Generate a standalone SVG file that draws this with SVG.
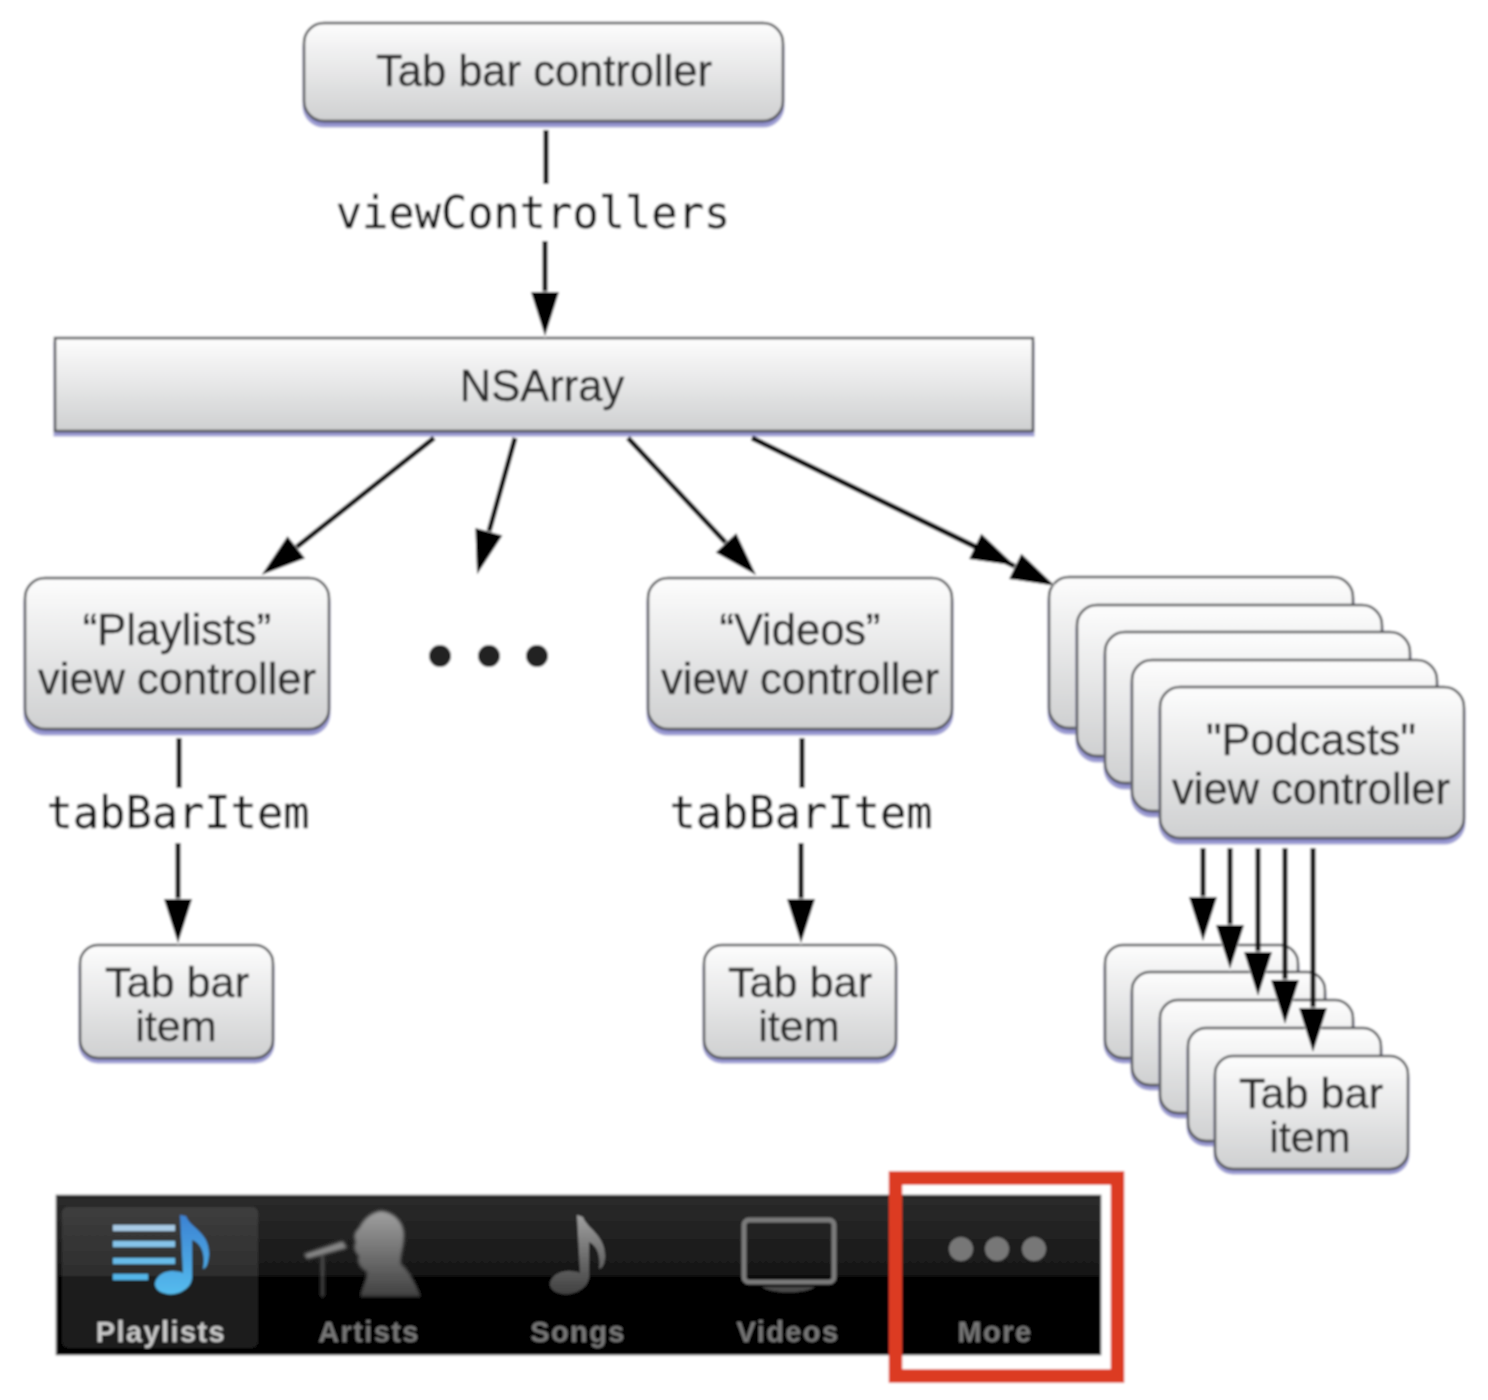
<svg xmlns="http://www.w3.org/2000/svg" width="1488" height="1400" viewBox="0 0 1488 1400">
<style>
.box{fill:url(#boxg);stroke:#555658;stroke-width:2.500}
.sh{fill:#8585c4;stroke:#a0a0d4;stroke-width:3}
.t{font-family:"Liberation Sans",Arial,sans-serif;font-size:43.500px;fill:#2a2a2a;text-anchor:middle;stroke:#2a2a2a;stroke-width:.4}
.i{font-size:43.200px}
.m{font-family:"DejaVu Sans Mono","Liberation Mono",monospace;font-size:43.700px;fill:#111;text-anchor:middle;stroke:#111;stroke-width:.3}
.l{fill:none;stroke:#111;stroke-width:5}
.a{marker-end:url(#head)}
.tb{font-family:"Liberation Sans",Arial,sans-serif;font-size:29px;font-weight:bold;fill:#777;text-anchor:middle;letter-spacing:1.400px}
</style>
<defs>
<linearGradient id="boxg" x1="0" y1="0" x2="0" y2="1"><stop offset="0" stop-color="#fdfdfd"/><stop offset="1" stop-color="#cfd0d1"/></linearGradient>
<linearGradient id="barg" x1="0" y1="0" x2="0" y2="1"><stop offset="0" stop-color="#2b2b2b"/><stop offset="1" stop-color="#161616"/></linearGradient>
<linearGradient id="note" x1="0" y1="0" x2="0" y2="1"><stop offset="0" stop-color="#3c82d2"/><stop offset="1" stop-color="#55bcee"/></linearGradient>
<linearGradient id="gray" x1="0" y1="0" x2="0" y2="1"><stop offset="0" stop-color="#a0a0a0"/><stop offset="1" stop-color="#404040"/></linearGradient>
<marker id="head" markerUnits="userSpaceOnUse" markerWidth="52" markerHeight="34" refX="26" refY="17" orient="auto"><path d="M4 3L48 17L4 31Z" fill="#000" stroke="#fff" stroke-width="1.500" paint-order="stroke"/></marker>
<marker id="mid" markerUnits="userSpaceOnUse" markerWidth="52" markerHeight="34" refX="26" refY="17" orient="auto"><path d="M4 3L48 17L4 31Z" fill="#000"/></marker>
<filter id="soft" x="0" y="0" width="1" height="1"><feGaussianBlur stdDeviation="1.100"/></filter>
<filter id="soft2" x="-5%" y="-5%" width="110%" height="110%"><feGaussianBlur stdDeviation="1.600"/></filter>
</defs>
<rect width="1488" height="1400" fill="#fff"/>
<g filter="url(#soft)">
<rect x="0" y="0" width="1488" height="1400" fill="#fff"/>
<g id="tab-bar-controller"><rect class="sh" x="304" y="28" width="479" height="98" rx="20"/><rect class="box" x="304" y="23" width="479" height="98" rx="20"/><text class="t" x="544" y="86">Tab bar controller</text></g>
<g id="nsarray"><rect class="sh" x="55" y="343" width="978" height="92"/><rect class="box" x="55" y="338" width="978" height="93"/><text class="t" x="542" y="401">NSArray</text></g>
<g id="playlists-vc"><rect class="sh" x="25" y="583" width="304" height="151" rx="20"/><rect class="box" x="25" y="578" width="304" height="151" rx="20"/><text class="t" x="177" y="645">“Playlists”</text><text class="t" x="177" y="694">view controller</text></g>
<g id="ellipsis"><circle cx="440" cy="656" r="11" fill="#222"/><circle cx="489" cy="656" r="11" fill="#222"/><circle cx="537" cy="656" r="11" fill="#222"/></g>
<g id="videos-vc"><rect class="sh" x="648" y="583" width="304" height="151" rx="20"/><rect class="box" x="648" y="578" width="304" height="151" rx="20"/><text class="t" x="800" y="645">“Videos”</text><text class="t" x="800" y="694">view controller</text></g>
<g id="podcasts-stack-1"><rect class="sh" x="1049" y="582" width="304" height="151" rx="20"/><rect class="box" x="1049" y="577" width="304" height="151" rx="20"/></g>
<g id="podcasts-stack-2"><rect class="sh" x="1077" y="610" width="305" height="151" rx="20"/><rect class="box" x="1077" y="605" width="305" height="151" rx="20"/></g>
<g id="podcasts-stack-3"><rect class="sh" x="1105" y="637" width="305" height="151" rx="20"/><rect class="box" x="1105" y="632" width="305" height="151" rx="20"/></g>
<g id="podcasts-stack-4"><rect class="sh" x="1132" y="665" width="305" height="151" rx="20"/><rect class="box" x="1132" y="660" width="305" height="151" rx="20"/></g>
<g id="podcasts-vc"><rect class="sh" x="1160" y="692" width="304" height="151" rx="20"/><rect class="box" x="1160" y="687" width="304" height="151" rx="20"/><text class="t" x="1311" y="755">"Podcasts"</text><text class="t" x="1311" y="804">view controller</text></g>
<g id="item-playlists"><rect class="sh" x="80" y="950" width="193" height="112" rx="18"/><rect class="box" x="80" y="945" width="193" height="113" rx="18"/><text class="t i" x="177" y="997">Tab bar</text><text class="t i" x="176" y="1041">item</text></g>
<g id="item-videos"><rect class="sh" x="704" y="950" width="192" height="112" rx="18"/><rect class="box" x="704" y="945" width="192" height="113" rx="18"/><text class="t i" x="800" y="997">Tab bar</text><text class="t i" x="799" y="1041">item</text></g>
<g id="item-stack-1"><rect class="sh" x="1105" y="950" width="193" height="112" rx="18"/><rect class="box" x="1105" y="945" width="193" height="113" rx="18"/></g>
<g id="item-stack-2"><rect class="sh" x="1132" y="977" width="193" height="112" rx="18"/><rect class="box" x="1132" y="972" width="193" height="113" rx="18"/></g>
<g id="item-stack-3"><rect class="sh" x="1160" y="1005" width="193" height="112" rx="18"/><rect class="box" x="1160" y="1000" width="193" height="113" rx="18"/></g>
<g id="item-stack-4"><rect class="sh" x="1188" y="1033" width="193" height="112" rx="18"/><rect class="box" x="1188" y="1028" width="193" height="113" rx="18"/></g>
<g id="item-podcasts"><rect class="sh" x="1215" y="1061" width="193" height="112" rx="18"/><rect class="box" x="1215" y="1056" width="193" height="113" rx="18"/><text class="t i" x="1311" y="1108">Tab bar</text><text class="t i" x="1310" y="1152">item</text></g>
<g id="connectors">
<path class="l" d="M546 130V184"/>
<path class="l a" d="M545 241V314"/>
<path class="l a" d="M434 438L279 561"/>
<path class="l a" d="M515 438L483 553"/>
<path class="l a" d="M628 438L741 559"/>
<path class="l" d="M752 438L1035 576" marker-end="url(#head)"/>
<path class="l" d="M752 438L995 556" marker-end="url(#mid)"/>
<path class="l" d="M179 738V788"/>
<path class="l a" d="M178 843V921"/>
<path class="l" d="M802 738V788"/>
<path class="l a" d="M801 843V921"/>
<path class="l a" d="M1203 848V919"/>
<path class="l a" d="M1230 848V947"/>
<path class="l a" d="M1258 848V974"/>
<path class="l a" d="M1285 848V1002"/>
<path class="l a" d="M1313 848V1030"/>
</g>
<g id="connector-labels">
<text class="m" x="533" y="228">viewControllers</text>
<text class="m" x="178" y="828">tabBarItem</text>
<text class="m" x="801" y="828">tabBarItem</text>
</g>
<g id="tab-bar">
<rect x="56" y="1195" width="1045" height="160" fill="#000" stroke="#999" stroke-width="1"/>
<rect x="57" y="1197" width="1043" height="79" fill="url(#barg)"/>
<rect x="62" y="1207" width="196" height="141" rx="6" fill="#fff" opacity=".1"/>
<g id="icon-playlists">
<rect x="113" y="1225" width="62" height="6" fill="#a9cbe6"/><rect x="113" y="1241" width="62" height="6" fill="#86c4ea"/><rect x="113" y="1258" width="62" height="6" fill="#68bcea"/><rect x="113" y="1274" width="35" height="6" fill="#55b6ea"/>
<path d="M180 1215L186 1216C190 1228 210 1232 209 1255C208 1265 206 1268 203 1269C206 1252 200 1243 192 1240V1278C191 1290 176 1296 167 1294C155 1292 152 1284 158 1277C164 1270 176 1270 183 1273Z" fill="url(#note)"/>
</g>
<g id="icon-artists" filter="url(#soft2)">
<path d="M304 1254L343 1241L347 1248L307 1259Z" fill="#888"/><rect x="321" y="1256" width="3" height="41" fill="#555"/>
<path d="M381 1211C394 1212 404 1222 404 1235C404 1247 400 1256 401 1264C410 1272 417 1285 421 1297H360C362 1285 367 1279 367 1272C360 1268 356 1262 359 1256C354 1252 353 1246 356 1242C353 1238 354 1232 359 1228C364 1218 372 1212 381 1211Z" fill="url(#gray)"/>
</g>
<g id="icon-songs">
<path d="M577 1215L583 1217C587 1229 606 1235 605 1258C604 1266 602 1268 599 1269C601 1254 596 1245 589 1242V1278C587 1290 572 1296 562 1294C550 1292 547 1284 553 1277C560 1270 572 1270 580 1273Z" fill="url(#gray)"/>
</g>
<g id="icon-videos">
<rect x="744" y="1220" width="90" height="62" rx="5" fill="none" stroke="#7c7c7c" stroke-width="5"/>
<path d="M762 1287H815C805 1294 772 1294 762 1287Z" fill="#4a4a4a"/>
</g>
<g id="icon-more"><circle cx="961" cy="1249" r="12" fill="#777"/><circle cx="997" cy="1249" r="12" fill="#777"/><circle cx="1034" cy="1249" r="12" fill="#777"/></g>
<text class="tb" x="161" y="1342" style="fill:#c8c8c8">Playlists</text>
<text class="tb" x="369" y="1342">Artists</text>
<text class="tb" x="578" y="1342">Songs</text>
<text class="tb" x="788" y="1342">Videos</text>
<text class="tb" x="995" y="1342">More</text>
</g>
<rect id="highlight" x="895.500" y="1178" width="222" height="198" fill="none" stroke="#dc3a24" stroke-width="13.500"/>
</g>
</svg>
